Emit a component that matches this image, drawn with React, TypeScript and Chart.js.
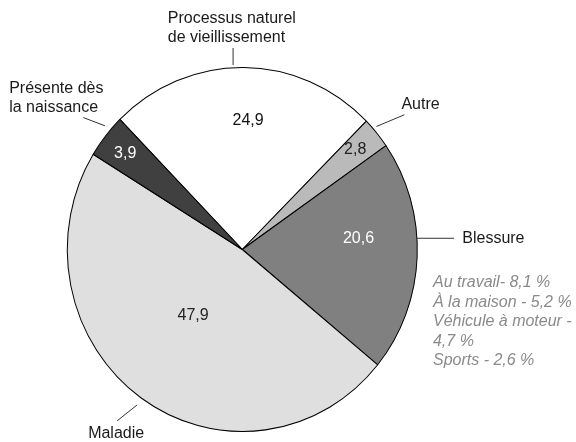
import React, { useEffect, useRef } from "react";
import { Chart, registerables } from "chart.js";

Chart.register(...registerables);

// ---- Data ----
const CATEGORIES = [
  "Processus naturel de vieillissement",
  "Autre",
  "Blessure",
  "Maladie",
  "Présente dès la naissance",
];
const LABEL_LINES = [
  ["Processus naturel", "de vieillissement"],
  ["Autre"],
  ["Blessure"],
  ["Maladie"],
  ["Présente dès", "la naissance"],
];
const VALUES = [24.9, 2.8, 20.6, 47.9, 3.9];
const VALUE_TEXT = ["24,9", "2,8", "20,6", "47,9", "3,9"];
const BLESSURE_DETAIL = [
  "Au travail- 8,1 %",
  "À la maison - 5,2 %",
  "Véhicule à moteur -",
  "4,7 %",
  "Sports - 2,6 %",
];

// ---- Styles / layout ----
const COLORS = ["#ffffff", "#bababa", "#808080", "#dfdfdf", "#404040"];
const VALUE_COLORS = ["#111111", "#222222", "#ffffff", "#222222", "#ffffff"];
// [angle shift (deg), radius fraction]
const VALUE_POS: [number, number][] = [
  [2.3, 0.71],
  [-0.5, 0.846],
  [-7.5, 0.667],
  [2.2, 0.46],
  [-0.5, 0.85],
];
type Leader = { shift: number; frac: number; vx: number; vy: number; tx: number; ty: number; align: CanvasTextAlign };
const LEADERS: Leader[] = [
  { shift: -3.35, frac: 1.015, vx: 0, vy: -17, tx: -65.3, ty: -29.6, align: "left" },
  { shift: -1.6, frac: 1.022, vx: 28, vy: -11.7, tx: -3, ty: -10, align: "left" },
  { shift: -5.8, frac: 1.0, vx: 37, vy: 0, tx: 8.3, ty: 0, align: "left" },
  { shift: -0.3, frac: 1.044, vx: -20, vy: 16, tx: -1, ty: 12.3, align: "center" },
  { shift: 2.3, frac: 1.038, vx: -21.7, vy: -8.3, tx: -74.1, ty: -29.1, align: "left" },
];
const DETAIL_OFFSET = { x: -21, y: 44.6 };
const LINE_H = 19.4;
const SY = 1.04;
const FONT = "'Liberation Sans', Arial, sans-serif";
const ROTATION = -44.4;

const ellipsePlugin = {
  id: "ellipse",
  beforeDatasetsDraw(chart: any) {
    const a = chart.getDatasetMeta(0).data[0];
    const ctx = chart.ctx;
    ctx.save();
    ctx.translate(a.x, a.y);
    ctx.scale(1, SY);
    ctx.translate(-a.x, -a.y);
  },
  afterDatasetsDraw(chart: any) {
    chart.ctx.restore();
  },
};

const labelPlugin = {
  id: "labels",
  afterDraw(chart: any) {
    const ctx: CanvasRenderingContext2D = chart.ctx;
    const meta = chart.getDatasetMeta(0);
    ctx.save();
    ctx.textBaseline = "middle";
    meta.data.forEach((arc: any, i: number) => {
      const { x: cx, y: cy, startAngle, endAngle, outerRadius: R } = arc.getProps(
        ["x", "y", "startAngle", "endAngle", "outerRadius"],
        true
      );
      const mid = (startAngle + endAngle) / 2;
      const pt = (ang: number, f: number) => ({
        x: cx + Math.cos(ang) * R * f,
        y: cy + Math.sin(ang) * R * f * SY,
      });
      // value label
      const [sh, fr] = VALUE_POS[i];
      const p = pt(mid + (sh * Math.PI) / 180, fr);
      ctx.font = `16px ${FONT}`;
      ctx.fillStyle = VALUE_COLORS[i];
      ctx.textAlign = "center";
      ctx.fillText(VALUE_TEXT[i], p.x, p.y);
      // leader line
      const L = LEADERS[i];
      const a0 = pt(mid + (L.shift * Math.PI) / 180, L.frac);
      const a1 = { x: a0.x + L.vx, y: a0.y + L.vy };
      ctx.strokeStyle = "#333333";
      ctx.lineWidth = 1;
      ctx.beginPath();
      ctx.moveTo(a0.x, a0.y);
      ctx.lineTo(a1.x, a1.y);
      ctx.stroke();
      // category label
      ctx.fillStyle = "#1a1a1a";
      ctx.textAlign = L.align;
      LABEL_LINES[i].forEach((t, k) => {
        ctx.fillText(t, a1.x + L.tx, a1.y + L.ty + k * LINE_H);
      });
      if (CATEGORIES[i] === "Blessure") {
        ctx.font = `italic 16px ${FONT}`;
        ctx.fillStyle = "#8a8a8a";
        ctx.textAlign = "left";
        BLESSURE_DETAIL.forEach((t, k) => {
          ctx.fillText(t, a1.x + DETAIL_OFFSET.x, a1.y + DETAIL_OFFSET.y + k * LINE_H);
        });
      }
    });
    ctx.restore();
  },
};

export default function App() {
  const ref = useRef<HTMLCanvasElement | null>(null);
  useEffect(() => {
    if (!ref.current) return;
    const chart = new Chart(ref.current, {
      type: "pie",
      data: {
        labels: CATEGORIES,
        datasets: [
          {
            data: VALUES,
            backgroundColor: COLORS,
            borderColor: "#000000",
            borderWidth: 1,
            hoverOffset: 0,
          },
        ],
      },
      options: {
        responsive: false,
        animation: false,
        events: [],
        rotation: ROTATION,
        radius: 175,
        layout: { padding: { left: 67, right: 158.4, top: 67.5, bottom: 10.5 } },
        plugins: { legend: { display: false }, tooltip: { enabled: false } },
      } as any,
      plugins: [ellipsePlugin, labelPlugin],
    });
    return () => chart.destroy();
  }, []);
  return (
    <div style={{ position: "fixed", left: 0, top: 0, width: 576, height: 442, background: "#fff" }}>
      <canvas ref={ref} width={576} height={442} style={{ display: "block" }} />
    </div>
  );
}
